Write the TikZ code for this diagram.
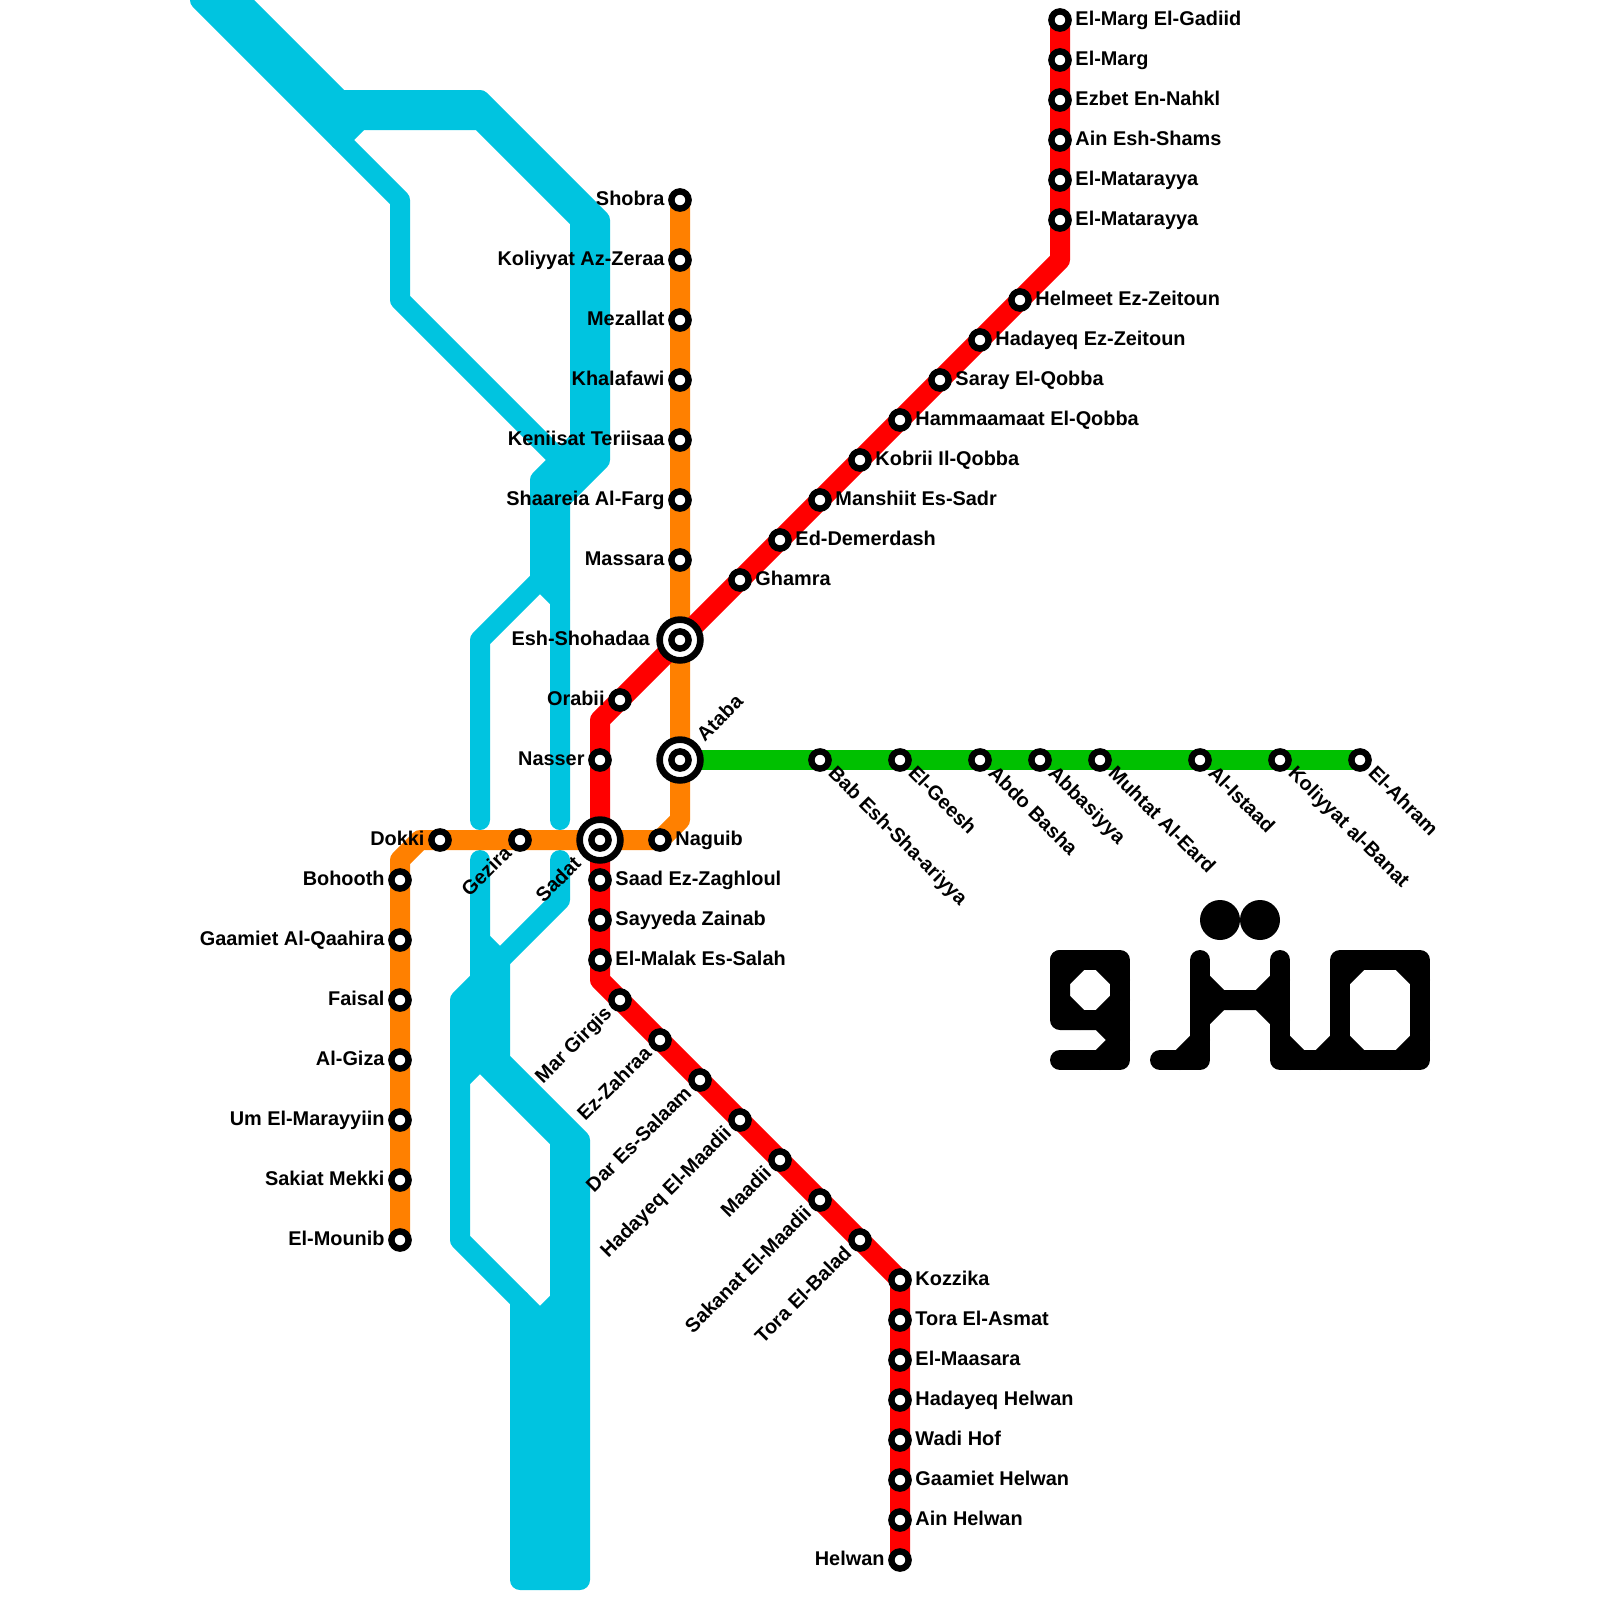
\documentclass[tikz,border=0pt]{standalone}
\usepackage{fontspec}
\setmainfont{Liberation Sans}
\usetikzlibrary{backgrounds}
\definecolor{riverblue}{HTML}{00C4E0}
\definecolor{lineorange}{HTML}{FF8000}
\definecolor{linegreen}{HTML}{00C000}
\definecolor{linered}{HTML}{FF0000}
\tikzset{
  stop/.style={circle,draw=black,fill=white,line width=0.16cm,minimum size=0.43cm,inner sep=0pt},
  hub/.style={circle,draw=black,fill=white,line width=0.167cm,minimum size=1.02cm,inner sep=0pt},
  lbl/.style={font=\bfseries\fontsize{14.15}{14.15}\selectfont,inner sep=0pt,text height=10pt,text depth=2.8pt},
  lblR/.style={lbl,anchor=west,xshift=0.38cm},
  lblL/.style={lbl,anchor=east,xshift=-0.38cm},
  lblFarL/.style={lbl,anchor=east,xshift=-0.75cm},
  lblUpR/.style={lbl,rotate=45,anchor=west,xshift=0.75cm},
  lblDn/.style={lbl,rotate=-45,anchor=west,xshift=0.38cm},
  lblUp/.style={lbl,rotate=45,anchor=east,xshift=-0.38cm},
  lblFarUp/.style={lbl,rotate=45,anchor=east,xshift=-0.75cm},
  metro/.style={line width=0.5cm,line cap=round,line join=round},
  river/.style={metro,riverblue},
  logo/.style={metro,black}
}
\begin{document}
\begin{tikzpicture}[x=0.5cm,y=-0.5cm]
  \useasboundingbox (0,0) rectangle (80,80);
  % red line
  \node[stop] (gadiid) at (53,1) {}; \node[lblR] (gadiidT) at (gadiid) {El-Marg El-Gadiid};
  \node[stop] (marg) at (53,3) {}; \node[lblR] (margT) at (marg) {El-Marg};
  \node[stop] (ezbet) at (53,5) {}; \node[lblR] (ezbetT) at (ezbet) {Ezbet En-Nahkl};
  \node[stop] (ainshams) at (53,7) {}; \node[lblR] (ainshamsT) at (ainshams) {Ain Esh-Shams};
  \node[stop] (matarA) at (53,9) {}; \node[lblR] (matarAT) at (matarA) {El-Matarayya};
  \node[stop] (matarB) at (53,11) {}; \node[lblR] (matarBT) at (matarB) {El-Matarayya};
  \coordinate (redA) at (53,13);
  \node[stop] (helmeet) at (51,15) {}; \node[lblR] (helmeetT) at (helmeet) {Helmeet Ez-Zeitoun};
  \node[stop] (hadZeit) at (49,17) {}; \node[lblR] (hadZeitT) at (hadZeit) {Hadayeq Ez-Zeitoun};
  \node[stop] (saray) at (47,19) {}; \node[lblR] (sarayT) at (saray) {Saray El-Qobba};
  \node[stop] (hammam) at (45,21) {}; \node[lblR] (hammamT) at (hammam) {Hammaamaat El-Qobba};
  \node[stop] (kobrii) at (43,23) {}; \node[lblR] (kobriiT) at (kobrii) {Kobrii Il-Qobba};
  \node[stop] (manshiit) at (41,25) {}; \node[lblR] (manshiitT) at (manshiit) {Manshiit Es-Sadr};
  \node[stop] (demer) at (39,27) {}; \node[lblR] (demerT) at (demer) {Ed-Demerdash};
  \node[stop] (ghamra) at (37,29) {}; \node[lblR] (ghamraT) at (ghamra) {Ghamra};
  \node[hub] (shohadaa) at (34,32) {}; \node[stop] (shohadaaI) at (34,32) {}; \node[lblFarL] (shohadaaT) at (shohadaa) {Esh-Shohadaa};
  \node[stop] (orabii) at (31,35) {}; \node[lblL] (orabiiT) at (orabii) {Orabii};
  \coordinate (redB) at (30,36);
  \node[stop] (nasser) at (30,38) {}; \node[lblL] (nasserT) at (nasser) {Nasser};
  \node[hub] (sadat) at (30,42) {}; \node[stop] (sadatI) at (30,42) {}; \node[lblFarUp] (sadatT) at (sadat) {Sadat};
  \node[stop] (saad) at (30,44) {}; \node[lblR] (saadT) at (saad) {Saad Ez-Zaghloul};
  \node[stop] (sayyeda) at (30,46) {}; \node[lblR] (sayyedaT) at (sayyeda) {Sayyeda Zainab};
  \node[stop] (malak) at (30,48) {}; \node[lblR] (malakT) at (malak) {El-Malak Es-Salah};
  \coordinate (redC) at (30,49);
  \node[stop] (girgis) at (31,50) {}; \node[lblUp] (girgisT) at (girgis) {Mar Girgis};
  \node[stop] (zahraa) at (33,52) {}; \node[lblUp] (zahraaT) at (zahraa) {Ez-Zahraa};
  \node[stop] (salaam) at (35,54) {}; \node[lblUp] (salaamT) at (salaam) {Dar Es-Salaam};
  \node[stop] (hadMaadi) at (37,56) {}; \node[lblUp] (hadMaadiT) at (hadMaadi) {Hadayeq El-Maadii};
  \node[stop] (maadi) at (39,58) {}; \node[lblUp] (maadiT) at (maadi) {Maadii};
  \node[stop] (sakanat) at (41,60) {}; \node[lblUp] (sakanatT) at (sakanat) {Sakanat El-Maadii};
  \node[stop] (tora) at (43,62) {}; \node[lblUp] (toraT) at (tora) {Tora El-Balad};
  \node[stop] (kozzika) at (45,64) {}; \node[lblR] (kozzikaT) at (kozzika) {Kozzika};
  \node[stop] (asmat) at (45,66) {}; \node[lblR] (asmatT) at (asmat) {Tora El-Asmat};
  \node[stop] (maasara) at (45,68) {}; \node[lblR] (maasaraT) at (maasara) {El-Maasara};
  \node[stop] (hadHelwan) at (45,70) {}; \node[lblR] (hadHelwanT) at (hadHelwan) {Hadayeq Helwan};
  \node[stop] (wadi) at (45,72) {}; \node[lblR] (wadiT) at (wadi) {Wadi Hof};
  \node[stop] (gaamHelwan) at (45,74) {}; \node[lblR] (gaamHelwanT) at (gaamHelwan) {Gaamiet Helwan};
  \node[stop] (ainHelwan) at (45,76) {}; \node[lblR] (ainHelwanT) at (ainHelwan) {Ain Helwan};
  \node[stop] (helwan) at (45,78) {}; \node[lblL] (helwanT) at (helwan) {Helwan};
  % orange line
  \node[stop] (shobra) at (34,10) {}; \node[lblL] (shobraT) at (shobra) {Shobra};
  \node[stop] (zeraa) at (34,13) {}; \node[lblL] (zeraaT) at (zeraa) {Koliyyat Az-Zeraa};
  \node[stop] (mezallat) at (34,16) {}; \node[lblL] (mezallatT) at (mezallat) {Mezallat};
  \node[stop] (khalafawi) at (34,19) {}; \node[lblL] (khalafawiT) at (khalafawi) {Khalafawi};
  \node[stop] (keniisat) at (34,22) {}; \node[lblL] (keniisatT) at (keniisat) {Keniisat Teriisaa};
  \node[stop] (shaareia) at (34,25) {}; \node[lblL] (shaareiaT) at (shaareia) {Shaareia Al-Farg};
  \node[stop] (massara) at (34,28) {}; \node[lblL] (massaraT) at (massara) {Massara};
  \node[hub] (ataba) at (34,38) {}; \node[stop] (atabaI) at (34,38) {}; \node[lblUpR] (atabaT) at (ataba) {Ataba};
  \coordinate (orgA) at (34,41);
  \node[stop] (naguib) at (33,42) {}; \node[lblR] (naguibT) at (naguib) {Naguib};
  \node[stop] (gezira) at (26,42) {}; \node[lblUp] (geziraT) at (gezira) {Gezira};
  \node[stop] (dokki) at (22,42) {}; \node[lblL] (dokkiT) at (dokki) {Dokki};
  \coordinate (orgB) at (21,42);
  \coordinate (orgC) at (20,43);
  \node[stop] (bohooth) at (20,44) {}; \node[lblL] (bohoothT) at (bohooth) {Bohooth};
  \node[stop] (qaahira) at (20,47) {}; \node[lblL] (qaahiraT) at (qaahira) {Gaamiet Al-Qaahira};
  \node[stop] (faisal) at (20,50) {}; \node[lblL] (faisalT) at (faisal) {Faisal};
  \node[stop] (giza) at (20,53) {}; \node[lblL] (gizaT) at (giza) {Al-Giza};
  \node[stop] (marayyiin) at (20,56) {}; \node[lblL] (marayyiinT) at (marayyiin) {Um El-Marayyiin};
  \node[stop] (mekki) at (20,59) {}; \node[lblL] (mekkiT) at (mekki) {Sakiat Mekki};
  \node[stop] (mounib) at (20,62) {}; \node[lblL] (mounibT) at (mounib) {El-Mounib};
  % green line
  \node[stop] (bab) at (41,38) {}; \node[lblDn] (babT) at (bab) {Bab Esh-Sha-ariyya};
  \node[stop] (geesh) at (45,38) {}; \node[lblDn] (geeshT) at (geesh) {El-Geesh};
  \node[stop] (abdo) at (49,38) {}; \node[lblDn] (abdoT) at (abdo) {Abdo Basha};
  \node[stop] (abbas) at (52,38) {}; \node[lblDn] (abbasT) at (abbas) {Abbasiyya};
  \node[stop] (muhtat) at (55,38) {}; \node[lblDn] (muhtatT) at (muhtat) {Muhtat Al-Eard};
  \node[stop] (istaad) at (60,38) {}; \node[lblDn] (istaadT) at (istaad) {Al-Istaad};
  \node[stop] (banat) at (64,38) {}; \node[lblDn] (banatT) at (banat) {Koliyyat al-Banat};
  \node[stop] (ahram) at (68,38) {}; \node[lblDn] (ahramT) at (ahram) {El-Ahram};
  \begin{pgfonlayer}{background}
    % the river
    \draw[river] (10,0) -- (20,10) -- (20,15) -- (28,23);
    \draw[river] (12,0) -- (17,5) -- (24,5) -- (30,11) -- (30,23) -- (28,25) -- (28,41);
    \draw[river] (11,0) -- (17,6) -- (24,6) -- (29,11) -- (29,22) -- (27,24) -- (27,29) -- (28,30);
    \draw[river] (30,22) -- (27,25);
    \draw[river] (27,29) -- (24,32) -- (24,41);
    \draw[river] (17,7) -- (18,6);
    \draw[river] (24,43) -- (24,53) -- (28,57) -- (28,65) -- (27,66) -- (27,79);
    \draw[river] (24,47) -- (25,48) -- (25,53) -- (29,57) -- (29,79) -- (26,79) -- (26,65);
    \draw[river] (28,43) -- (28,45) -- (23,50) -- (23,62) -- (27,66);
    \draw[river] (24,53) -- (23,54);
    \draw[river] (28,65) -- (28,79);
    % metro lines
    \draw[metro,linegreen] (ataba.center) -- (bab.center) -- (geesh.center) -- (abdo.center) -- (abbas.center) -- (muhtat.center) -- (istaad.center) -- (banat.center) -- (ahram.center);
    \draw[metro,lineorange] (shobra.center) -- (zeraa.center) -- (mezallat.center) -- (khalafawi.center) -- (keniisat.center) -- (shaareia.center) -- (massara.center) -- (shohadaa.center) -- (ataba.center) -- (orgA) -- (naguib.center) -- (sadat.center) -- (gezira.center) -- (dokki.center) -- (orgB) -- (orgC) -- (bohooth.center) -- (qaahira.center) -- (faisal.center) -- (giza.center) -- (marayyiin.center) -- (mekki.center) -- (mounib.center);
    \draw[metro,linered] (gadiid.center) -- (marg.center) -- (ezbet.center) -- (ainshams.center) -- (matarA.center) -- (matarB.center) -- (redA) -- (helmeet.center) -- (hadZeit.center) -- (saray.center) -- (hammam.center) -- (kobrii.center) -- (manshiit.center) -- (demer.center) -- (ghamra.center) -- (shohadaa.center) -- (orabii.center) -- (redB) -- (nasser.center) -- (sadat.center) -- (saad.center) -- (sayyeda.center) -- (malak.center) -- (redC) -- (girgis.center) -- (zahraa.center) -- (salaam.center) -- (hadMaadi.center) -- (maadi.center) -- (sakanat.center) -- (tora.center) -- (kozzika.center) -- (asmat.center) -- (maasara.center) -- (hadHelwan.center) -- (wadi.center) -- (gaamHelwan.center) -- (ainHelwan.center) -- (helwan.center);
  \end{pgfonlayer}
  % the logo
  \fill[black] (61,46) circle (1) (63,46) circle (1);
  \draw[logo] (53,48) -- (56,48) -- (56,53) -- (53,53);
  \draw[logo] (53,48) -- (53,51) -- (55,51) -- (56,52) -- (55,53);
  \draw[logo] (53,49) -- (54,48);
  \draw[logo] (55,48) -- (56,49);
  \draw[logo] (56,50) -- (55,51);
  \draw[logo] (54,51) -- (53,50);
  \draw[logo] (60,48) -- (60,53) -- (58,53);
  \draw[logo] (59,53) -- (60,52);
  \draw[logo] (60,49) -- (61,50) -- (63,50) -- (64,49);
  \draw[logo] (60,51) -- (61,50);
  \draw[logo] (63,50) -- (64,51);
  \draw[logo] (64,48) -- (64,53) -- (71,53) -- (71,48) -- (67,48) -- (67,53);
  \draw[logo] (64,52) -- (65,53);
  \draw[logo] (66,53) -- (67,52);
  \draw[logo] (67,49) -- (68,48);
  \draw[logo] (70,48) -- (71,49);
  \draw[logo] (71,52) -- (70,53);
  \draw[logo] (68,53) -- (67,52);
\end{tikzpicture}
\end{document}
